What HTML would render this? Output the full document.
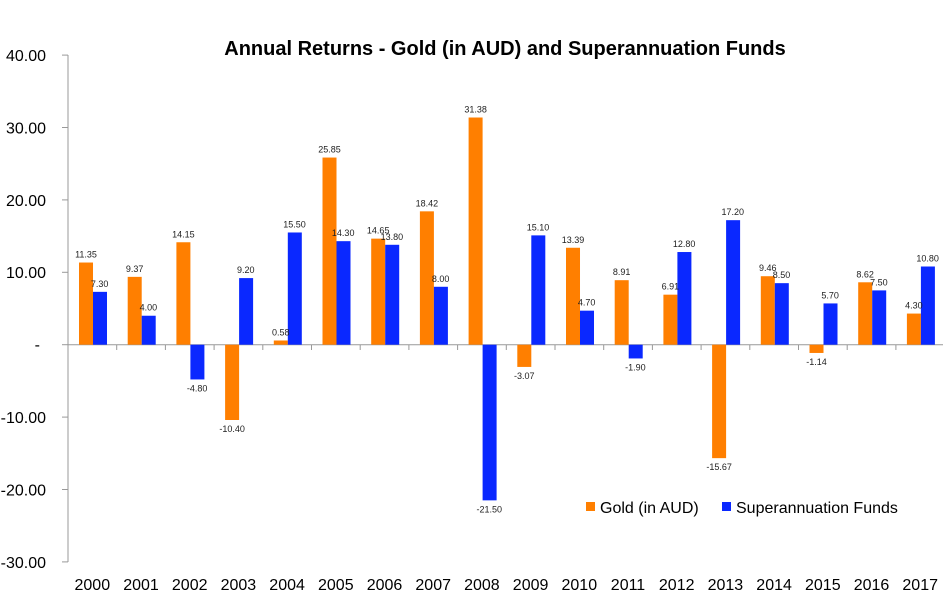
<!DOCTYPE html>
<html><head><meta charset="utf-8"><style>
html,body{margin:0;padding:0;background:#fff;}
svg{display:block;font-family:"Liberation Sans",sans-serif;}
</style></head><body>
<svg width="943" height="604" viewBox="0 0 943 604">
<text x="505" y="55" text-anchor="middle" font-size="20" font-weight="bold" fill="#000">Annual Returns - Gold (in AUD) and Superannuation Funds</text>
<g font-size="16" text-anchor="end" fill="#000">
<text x="46" y="61">40.00</text>
<text x="46" y="133.5">30.00</text>
<text x="46" y="206">20.00</text>
<text x="46" y="278">10.00</text>
<text x="40" y="350">-</text>
<text x="46" y="423">-10.00</text>
<text x="46" y="495.5">-20.00</text>
<text x="46" y="568">-30.00</text>
</g>
<g stroke="#999" stroke-width="1">
<line x1="68" y1="55" x2="68" y2="562"/>
<line x1="68" y1="344.7" x2="943" y2="344.7"/>
<line x1="62" y1="55.1" x2="68" y2="55.1"/><line x1="62" y1="127.5" x2="68" y2="127.5"/><line x1="62" y1="199.9" x2="68" y2="199.9"/><line x1="62" y1="272.3" x2="68" y2="272.3"/><line x1="62" y1="344.7" x2="68" y2="344.7"/><line x1="62" y1="417.1" x2="68" y2="417.1"/><line x1="62" y1="489.5" x2="68" y2="489.5"/><line x1="62" y1="561.9" x2="68" y2="561.9"/>
<line x1="116.7" y1="344.7" x2="116.7" y2="350"/><line x1="165.4" y1="344.7" x2="165.4" y2="350"/><line x1="214.1" y1="344.7" x2="214.1" y2="350"/><line x1="262.8" y1="344.7" x2="262.8" y2="350"/><line x1="311.5" y1="344.7" x2="311.5" y2="350"/><line x1="360.2" y1="344.7" x2="360.2" y2="350"/><line x1="408.9" y1="344.7" x2="408.9" y2="350"/><line x1="457.6" y1="344.7" x2="457.6" y2="350"/><line x1="506.3" y1="344.7" x2="506.3" y2="350"/><line x1="555" y1="344.7" x2="555" y2="350"/><line x1="603.7" y1="344.7" x2="603.7" y2="350"/><line x1="652.4" y1="344.7" x2="652.4" y2="350"/><line x1="701.1" y1="344.7" x2="701.1" y2="350"/><line x1="749.8" y1="344.7" x2="749.8" y2="350"/><line x1="798.5" y1="344.7" x2="798.5" y2="350"/><line x1="847.2" y1="344.7" x2="847.2" y2="350"/><line x1="895.9" y1="344.7" x2="895.9" y2="350"/>
</g>
<g transform="translate(68,344.7) scale(48.7,-7.24)">
<g fill="#ff7f00">
<rect x="0.2259" y="0" width="0.2875" height="11.35"/>
<rect x="1.2259" y="0" width="0.2875" height="9.37"/>
<rect x="2.2259" y="0" width="0.2875" height="14.15"/>
<rect x="3.2259" y="-10.40" width="0.2875" height="10.40"/>
<rect x="4.2259" y="0" width="0.2875" height="0.58"/>
<rect x="5.2259" y="0" width="0.2875" height="25.85"/>
<rect x="6.2259" y="0" width="0.2875" height="14.65"/>
<rect x="7.2259" y="0" width="0.2875" height="18.42"/>
<rect x="8.2259" y="0" width="0.2875" height="31.38"/>
<rect x="9.2259" y="-3.07" width="0.2875" height="3.07"/>
<rect x="10.2259" y="0" width="0.2875" height="13.39"/>
<rect x="11.2259" y="0" width="0.2875" height="8.91"/>
<rect x="12.2259" y="0" width="0.2875" height="6.91"/>
<rect x="13.2259" y="-15.67" width="0.2875" height="15.67"/>
<rect x="14.2259" y="0" width="0.2875" height="9.46"/>
<rect x="15.2259" y="-1.14" width="0.2875" height="1.14"/>
<rect x="16.2259" y="0" width="0.2875" height="8.62"/>
<rect x="17.2259" y="0" width="0.2875" height="4.30"/>
</g>
<g fill="#0a28ff">
<rect x="0.5134" y="0" width="0.2875" height="7.30"/>
<rect x="1.5134" y="0" width="0.2875" height="4.00"/>
<rect x="2.5134" y="-4.80" width="0.2875" height="4.80"/>
<rect x="3.5134" y="0" width="0.2875" height="9.20"/>
<rect x="4.5134" y="0" width="0.2875" height="15.50"/>
<rect x="5.5134" y="0" width="0.2875" height="14.30"/>
<rect x="6.5134" y="0" width="0.2875" height="13.80"/>
<rect x="7.5134" y="0" width="0.2875" height="8.00"/>
<rect x="8.5134" y="-21.50" width="0.2875" height="21.50"/>
<rect x="9.5134" y="0" width="0.2875" height="15.10"/>
<rect x="10.5134" y="0" width="0.2875" height="4.70"/>
<rect x="11.5134" y="-1.90" width="0.2875" height="1.90"/>
<rect x="12.5134" y="0" width="0.2875" height="12.80"/>
<rect x="13.5134" y="0" width="0.2875" height="17.20"/>
<rect x="14.5134" y="0" width="0.2875" height="8.50"/>
<rect x="15.5134" y="0" width="0.2875" height="5.70"/>
<rect x="16.5134" y="0" width="0.2875" height="7.50"/>
<rect x="17.5134" y="0" width="0.2875" height="10.80"/>
</g>
</g>
<g font-size="9" text-anchor="middle" fill="#222">
<text x="86" y="257.5">11.35</text><text x="134.7" y="271.9">9.37</text><text x="183.4" y="237.3">14.15</text><text x="232.1" y="432">-10.40</text><text x="280.8" y="335.5">0.58</text><text x="329.5" y="152.5">25.85</text><text x="378.2" y="233.6">14.65</text><text x="426.9" y="206.3">18.42</text><text x="475.6" y="112.5">31.38</text><text x="524.3" y="379">-3.07</text><text x="573" y="242.8">13.39</text><text x="621.7" y="275.2">8.91</text><text x="670.4" y="289.7">6.91</text><text x="719.1" y="470">-15.67</text><text x="767.8" y="271.2">9.46</text><text x="816.5" y="365">-1.14</text><text x="865.2" y="277.3">8.62</text><text x="913.9" y="308.6">4.30</text>
<text x="99.7" y="286.8">7.30</text><text x="148.4" y="310.7">4.00</text><text x="197.1" y="391.5">-4.80</text><text x="245.8" y="273.1">9.20</text><text x="294.5" y="227.5">15.50</text><text x="343.2" y="236.2">14.30</text><text x="391.9" y="239.8">13.80</text><text x="440.6" y="281.8">8.00</text><text x="489.3" y="512.4">-21.50</text><text x="538" y="230.4">15.10</text><text x="586.7" y="305.7">4.70</text><text x="635.4" y="370.5">-1.90</text><text x="684.1" y="247">12.80</text><text x="732.8" y="215.2">17.20</text><text x="781.5" y="278.2">8.50</text><text x="830.2" y="298.4">5.70</text><text x="878.9" y="285.4">7.50</text><text x="927.6" y="261.5">10.80</text>
</g>
<g font-size="16" text-anchor="middle" fill="#000">
<text x="92.3" y="590">2000</text><text x="141" y="590">2001</text><text x="189.7" y="590">2002</text><text x="238.4" y="590">2003</text><text x="287.1" y="590">2004</text><text x="335.8" y="590">2005</text><text x="384.5" y="590">2006</text><text x="433.2" y="590">2007</text><text x="481.9" y="590">2008</text><text x="530.6" y="590">2009</text><text x="579.3" y="590">2010</text><text x="628" y="590">2011</text><text x="676.7" y="590">2012</text><text x="725.4" y="590">2013</text><text x="774.1" y="590">2014</text><text x="822.8" y="590">2015</text><text x="871.5" y="590">2016</text><text x="920.2" y="590">2017</text>
</g>
<rect x="586" y="502" width="9" height="9" fill="#ff7f00"/>
<text x="600" y="513" font-size="16" fill="#000">Gold (in AUD)</text>
<rect x="722" y="502" width="9" height="9" fill="#0a28ff"/>
<text x="736" y="513" font-size="16" fill="#000">Superannuation Funds</text>
</svg>
</body></html>
